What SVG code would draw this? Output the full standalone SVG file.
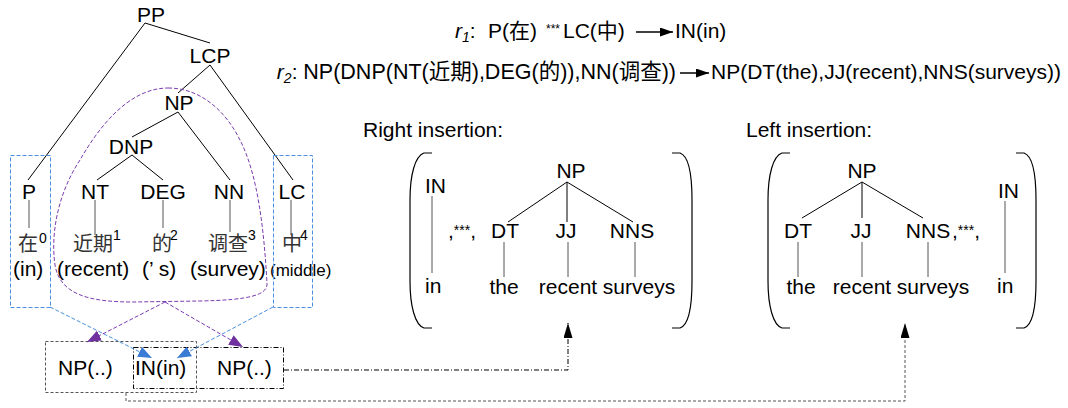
<svg xmlns="http://www.w3.org/2000/svg" width="1068" height="408" viewBox="0 0 1068 408">
<style>
text{font-family:"Liberation Sans",Arial,"Noto Sans CJK SC",sans-serif;font-size:21px;fill:#000}
.cjk{font-family:"Noto Sans CJK SC","Liberation Sans",sans-serif;font-size:20px;fill:#333}
.sup{font-size:14px}
.small{font-size:17px}
.ast{font-size:12px}
.m{text-anchor:middle}
.br{fill:none;stroke:#000;stroke-width:1.2}
.ln{stroke:#000;stroke-width:1;fill:none}
.lf{stroke:#555;stroke-width:1;fill:none}
.bbox{fill:none;stroke:#4a8fe0;stroke-width:1;stroke-dasharray:4,2}
.pur{fill:none;stroke:#7a3cb0;stroke-width:1;stroke-dasharray:4,2}
</style>
<defs>
<marker id="blk" markerUnits="userSpaceOnUse" markerWidth="15" markerHeight="9" refX="15" refY="4.5" orient="auto"><path d="M0,0 L15,4.5 L0,9 Z" fill="#000"/></marker>
<marker id="rar" markerUnits="userSpaceOnUse" markerWidth="13" markerHeight="9" refX="13" refY="4.5" orient="auto"><path d="M0,0 L13,4.5 L0,9 Z" fill="#000"/></marker>
<marker id="pa" markerUnits="userSpaceOnUse" markerWidth="14" markerHeight="11" refX="14" refY="5.5" orient="auto"><path d="M0,0 L14,5.5 L0,11 Z" fill="#7030a0"/></marker>
<marker id="ba" markerUnits="userSpaceOnUse" markerWidth="14" markerHeight="11" refX="14" refY="5.5" orient="auto"><path d="M0,0 L14,5.5 L0,11 Z" fill="#3a7bd5"/></marker>
</defs>
<rect width="1068" height="408" fill="#fff"/>

<!-- rules -->
<g id="rule1">
<text x="455" y="38"><tspan font-style="italic">r</tspan><tspan font-style="italic" font-size="14" dy="4">1</tspan><tspan dy="-4">:</tspan></text>
<text x="488" y="38">P(<tspan font-family="Noto Sans CJK SC">在</tspan>)</text>
<text class="ast" x="546" y="33">***</text>
<text x="563" y="38">LC(<tspan font-family="Noto Sans CJK SC">中</tspan>)</text>
<line x1="636" y1="32" x2="673" y2="32" stroke="#000" stroke-width="1.5" marker-end="url(#rar)"/>
<text x="675" y="38">IN(in)</text>
</g>
<g id="rule2">
<text x="676" y="79" text-anchor="end"><tspan font-style="italic">r</tspan><tspan font-style="italic" font-size="14" dy="4">2</tspan><tspan dy="-4">: </tspan><tspan font-size="21.5">NP(DNP(NT(</tspan><tspan font-family="Noto Sans CJK SC" font-size="21.5">近期</tspan><tspan font-size="21.5">),DEG(</tspan><tspan font-family="Noto Sans CJK SC" font-size="21.5">的</tspan><tspan font-size="21.5">)),NN(</tspan><tspan font-family="Noto Sans CJK SC" font-size="21.5">调查</tspan><tspan font-size="21.5">))</tspan></text>
<line x1="680" y1="73" x2="709" y2="73" stroke="#000" stroke-width="1.5" marker-end="url(#rar)"/>
<text x="711" y="79">NP(DT(the),JJ(recent),NNS(surveys))</text>
</g>

<!-- source tree -->
<g id="tree-edges">
<path class="ln" d="M145,23 L28,180 M145,23 L210,43 M210,65 L178,93 M210,65 L293,180 M178,112 L132,137 M178,112 L230,180 M132,155 L97,180 M132,155 L163,180"/>
<path class="lf" d="M29,200 V228 M95,200 V235 M163,200 V228 M230,200 V232 M291,200 V235"/>
</g>
<g id="node-PP"><text class="m" x="151" y="22">PP</text></g>
<g id="node-LCP"><text class="m" x="210" y="63">LCP</text></g>
<g id="node-NP"><text class="m" x="179" y="110">NP</text></g>
<g id="node-DNP"><text class="m" x="131" y="154">DNP</text></g>
<g id="node-P"><text class="m" x="29" y="199">P</text></g>
<g id="node-NT"><text class="m" x="95" y="199">NT</text></g>
<g id="node-DEG"><text class="m" x="163" y="199">DEG</text></g>
<g id="node-NN"><text class="m" x="229" y="199">NN</text></g>
<g id="node-LC"><text class="m" x="292" y="199">LC</text></g>
<g id="words">
<text class="cjk" x="18" y="251">在</text><text class="sup" x="39" y="243">0</text>
<text class="cjk" x="73" y="251">近期</text><text class="sup" x="113" y="240">1</text>
<text class="cjk" x="152" y="251">的</text><text class="sup" x="170" y="240">2</text>
<text class="cjk" x="208" y="251">调查</text><text class="sup" x="248" y="240">3</text>
<text class="cjk" x="282" y="251">中</text><text class="sup" x="300" y="240">4</text>
<text x="13" y="276">(in)</text>
<text x="57" y="276">(recent)</text>
<text x="142" y="276">(’ s)</text>
<text x="190" y="276">(survey)</text>
<text class="small" x="270" y="276">(middle)</text>
</g>
<g id="groups">
<rect class="bbox" x="10.5" y="155.5" width="40" height="152"/>
<rect class="bbox" x="273.5" y="155.5" width="39" height="152"/>
<path class="pur" d="M168,88 C200,88 225,110 240,140 C258,175 264,230 267,283 C268,295 250,300 200,301 L133,302 C90,302 60,295 55,265 C50,230 60,190 80,160 C100,125 130,88 168,88 Z"/>
</g>

<!-- target boxes -->
<g id="box-left">
<rect x="45.5" y="341.5" width="151" height="51" fill="none" stroke="#555" stroke-dasharray="3,2"/>
<text x="58" y="375">NP(..)</text>
</g>
<g id="box-right">
<rect x="133.5" y="347.5" width="150" height="41" fill="none" stroke="#000" stroke-dasharray="5,2,1,2"/>
<text x="135" y="375">IN(in)</text>
<text x="217" y="375">NP(..)</text>
</g>

<!-- right insertion -->
<g id="right-insertion">
<text x="363" y="137">Right insertion:</text>
<path class="br" d="M432,153 H424 C415,156 410,175 410,200 V281 C410,306 415,325 424,328 H432"/>
<path class="br" d="M672,153 H680 C689,156 692,175 692,200 V281 C692,306 689,325 680,328 H672"/>
<text x="425" y="193">IN</text>
<path class="lf" d="M432,196 V273"/>
<text x="425" y="293">in</text>
<text x="448" y="238"><tspan>,</tspan><tspan font-size="14" dy="-3">***</tspan><tspan dy="3">,</tspan></text>
<text class="m" x="571" y="178">NP</text>
<path class="ln" d="M567,182 L508,222 M567,182 L567,222 M567,182 L633,222"/>
<text class="m" x="505" y="238">DT</text>
<text class="m" x="566" y="238">JJ</text>
<text class="m" x="632" y="238">NNS</text>
<path class="lf" d="M504,242 V277 M568,242 V277 M635,242 V277"/>
<text class="m" x="504" y="294">the</text>
<text class="m" x="568" y="294">recent</text>
<text class="m" x="639" y="294">surveys</text>
</g>

<!-- left insertion -->
<g id="left-insertion">
<text x="746" y="137">Left insertion:</text>
<path class="br" d="M790,153 H782 C773,156 768,175 768,200 V281 C768,306 773,325 782,328 H790"/>
<path class="br" d="M1016,153 H1024 C1033,156 1036,175 1036,200 V281 C1036,306 1033,325 1024,328 H1016"/>
<text class="m" x="862" y="178">NP</text>
<path class="ln" d="M862,182 L802,218 M862,182 L862,218 M862,182 L923,218"/>
<text class="m" x="798" y="238">DT</text>
<text class="m" x="861" y="238">JJ</text>
<text class="m" x="928" y="238">NNS</text>
<text x="952" y="238"><tspan>,</tspan><tspan font-size="14" dy="-3">***</tspan><tspan dy="3">,</tspan></text>
<path class="lf" d="M798,242 V277 M862,242 V277 M928,242 V277"/>
<text class="m" x="801" y="294">the</text>
<text class="m" x="862" y="294">recent</text>
<text class="m" x="933" y="294">surveys</text>
<text x="998" y="198">IN</text>
<path class="lf" d="M1005,201 V273"/>
<text x="997" y="293">in</text>
</g>

<!-- connectors -->
<g id="connectors">
<line x1="50" y1="307" x2="152" y2="358" stroke="#4a8fe0" stroke-dasharray="4,2" marker-end="url(#ba)"/>
<line x1="273" y1="307" x2="177" y2="358" stroke="#4a8fe0" stroke-dasharray="4,2" marker-end="url(#ba)"/>
<line x1="165" y1="302" x2="87" y2="342" stroke="#7a3cb0" stroke-dasharray="4,2" marker-end="url(#pa)"/>
<line x1="165" y1="302" x2="243" y2="347" stroke="#7a3cb0" stroke-dasharray="4,2" marker-end="url(#pa)"/>
<path d="M284,370 H568 V323" fill="none" stroke="#000" stroke-dasharray="5,2,1,2" marker-end="url(#blk)"/>
<path d="M126,393 V401 H905 V323" fill="none" stroke="#555" stroke-dasharray="3,2" marker-end="url(#blk)"/>
</g>
</svg>
